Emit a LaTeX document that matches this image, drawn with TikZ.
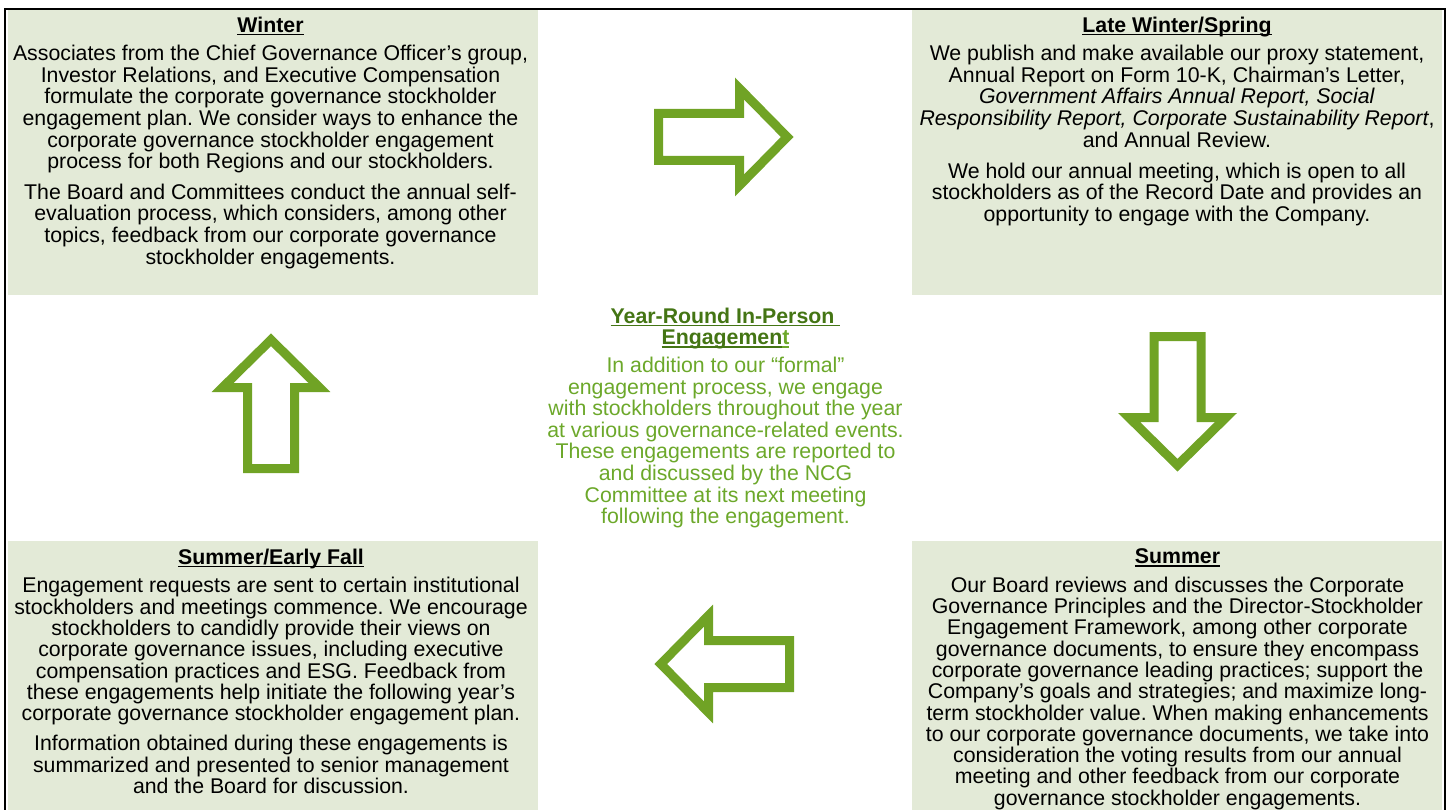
\documentclass[tikz,border=0pt]{standalone}
\usepackage{fontspec}
\setmainfont{Liberation Sans}
\frenchspacing
\definecolor{boxfill}{HTML}{E3EAD7}
\definecolor{arrowgreen}{HTML}{70A325}
\definecolor{centergreen}{HTML}{6CA82A}
\definecolor{titlegreen}{HTML}{447514}
\newcommand\myul[1]{\setbox0\hbox{#1}\rlap{\rule[-3pt]{\wd0}{1.4pt}}\box0}
\tikzset{
  panel/.style={fill=boxfill, draw=none, inner sep=0pt, anchor=north west},
  txt/.style={font=\fontsize{21.3}{21.3}\selectfont\frenchspacing, align=center, inner sep=0pt, anchor=north},
  toptxt/.style={txt, font=\fontsize{21.3}{21.65}\selectfont\frenchspacing},
  ctxt/.style={txt, font=\fontsize{21.3}{21.6}\selectfont\frenchspacing, text=centergreen},
  blockarrow/.style={draw=arrowgreen, line width=9pt, line join=miter, fill=white},
  bigarrow/.pic={\path[blockarrow] (-76.5,23.5) -- (4.5,23.5) -- (4.5,48.5) -- (52.2,0)
      -- (4.5,-48.5) -- (4.5,-23.5) -- (-76.5,-23.5) -- cycle;},
  frame/.style={draw=black, line width=2.5pt}
}
\begin{document}
\begin{tikzpicture}[x=1pt,y=1pt]
\useasboundingbox (0,0) rectangle (1448,-810);
% panels
\node[panel, minimum width=530pt, minimum height=285pt] (winterbox) at (8,-10) {};
\node[panel, minimum width=530pt, minimum height=285pt] (springbox) at (912,-10) {};
\node[panel, minimum width=530pt, minimum height=280pt] (fallbox) at (8,-541) {};
\node[panel, minimum width=530pt, minimum height=280pt] (summerbox) at (912,-541) {};
% texts
\node[toptxt] (winter) at (270.5,-16.7) {\myul{\textbf{Winter}}\\[6.6pt]
Associates from the Chief Governance Officer’s group,\\
Investor Relations, and Executive Compensation\\
formulate the corporate governance stockholder\\
engagement plan. We consider ways to enhance the\\
corporate governance stockholder engagement\\
process for both Regions and our stockholders.\\[8.6pt]
The Board and Committees conduct the annual self-\\
evaluation process, which considers, among other\\
topics, feedback from our corporate governance\\
stockholder engagements.};
\node[toptxt] (spring) at (1177,-16.7) {\myul{\textbf{Late Winter/Spring}}\\[6.6pt]
We publish and make available our proxy statement,\\
Annual Report on Form 10-K, Chairman’s Letter,\\
\textit{Government Affairs Annual Report, Social}\\
\textit{Responsibility Report, Corporate Sustainability Report},\\
and Annual Review.\\[9.2pt]
We hold our annual meeting, which is open to all\\
stockholders as of the Record Date and provides an\\
opportunity to engage with the Company.};
\node[txt] (fall) at (271,-548.5) {\myul{\textbf{Summer/Early Fall}}\\[7.4pt]
Engagement requests are sent to certain institutional\\
stockholders and meetings commence. We encourage\\
stockholders to candidly provide their views on\\
corporate governance issues, including executive\\
compensation practices and ESG. Feedback from\\
these engagements help initiate the following year’s\\
corporate governance stockholder engagement plan.\\[8.8pt]
Information obtained during these engagements is\\
summarized and presented to senior management\\
and the Board for discussion.};
\node[txt] (summer) at (1177.5,-548.5) {\myul{\textbf{Summer}}\\[7.4pt]
Our Board reviews and discusses the Corporate\\
Governance Principles and the Director-Stockholder\\
Engagement Framework, among other corporate\\
governance documents, to ensure they encompass\\
corporate governance leading practices; support the\\
Company’s goals and strategies; and maximize long-\\
term stockholder value. When making enhancements\\
to our corporate governance documents, we take into\\
consideration the voting results from our annual\\
meeting and other feedback from our corporate\\
governance stockholder engagements.};
\node[ctxt] (center) at (725.5,-307.5) {{\color{titlegreen}\myul{\textbf{Year-Round In-Person\ }}}\\
{\color{titlegreen}\myul{\textbf{Engagemen}}}\myul{\textbf{t}}\\[6.2pt]
In addition to our “formal”\\
engagement process, we engage\\
with stockholders throughout the year\\
at various governance-related events.\\
These engagements are reported to\\
and discussed by the NCG\\
Committee at its next meeting\\
following the engagement.};
% block arrows
\pic (arrowright) at (735,-137) {bigarrow};
\pic[rotate=-90] (arrowdown) at (1177.5,-413) {bigarrow};
\pic[rotate=180] (arrowleft) at (713,-664) {bigarrow};
\pic[rotate=90] (arrowup) at (271,-392) {bigarrow};
% outer frame
\draw[frame] (5,-9) rectangle (1445,-830);
\end{tikzpicture}
\end{document}
